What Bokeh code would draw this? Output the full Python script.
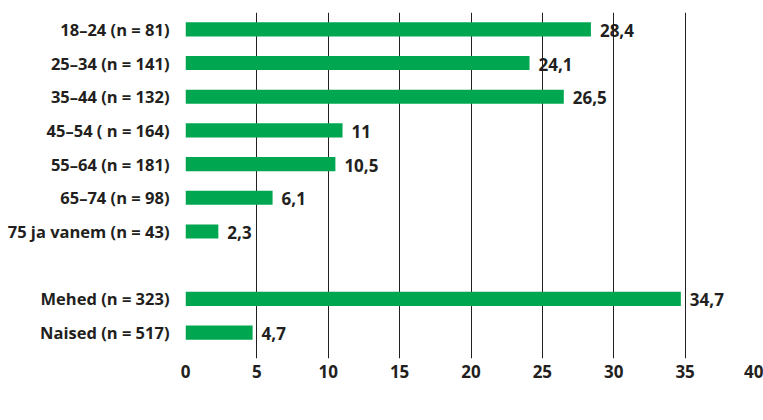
from bokeh.plotting import figure
from bokeh.models import ColumnDataSource, Range1d, Label, FixedTicker
from bokeh.embed import file_html
from bokeh.resources import INLINE
from bokeh.core.properties import value

categories = ["18–24 (n = 81)", "25–34 (n = 141)", "35–44 (n = 132)", "45–54 ( n = 164)",
              "55–64 (n = 181)", "65–74 (n = 98)", "75 ja vanem (n = 43)", "",
              "Mehed (n = 323)", "Naised (n = 517)"]
values = [28.4, 24.1, 26.5, 11, 10.5, 6.1, 2.3, None, 34.7, 4.7]
value_labels = ["28,4", "24,1", "26,5", "11", "10,5", "6,1", "2,3", "", "34,7", "4,7"]
x_ticks = [0, 5, 10, 15, 20, 25, 30, 35, 40]
x_title = "Osakaal, %"

GREEN = "#00a650"
DARK = "#231f20"
FONT = "Open Sans"

n = len(categories)
rows = [(n - 1 - i, c, v, l) for i, (c, v, l) in enumerate(zip(categories, values, value_labels)) if v is not None]
src = ColumnDataSource(dict(y=[r[0] for r in rows], val=[r[2] for r in rows], lab=[r[3] for r in rows]))

p = figure(width=763, height=420, output_backend="svg", toolbar_location=None,
           y_range=Range1d(-0.77, n - 0.5), x_range=(0, 40),
           min_border_left=185, min_border_right=7, min_border_top=12, min_border_bottom=62)
p.outline_line_color = None
p.background_fill_color = "white"

p.hbar(y="y", right="val", left=0, height=0.42, source=src, color=GREEN, line_color=None)
p.text(x="val", y="y", text="lab", source=src, x_offset=9, y_offset=1, text_baseline="middle",
       text_align="left", text_font=value(FONT), text_font_style="bold",
       text_font_size="17px", text_color=DARK)

p.xaxis.ticker = FixedTicker(ticks=x_ticks)
p.xaxis.axis_line_color = None
p.xaxis.major_tick_line_color = None
p.xaxis.minor_tick_line_color = None
p.xaxis.major_label_text_font = FONT
p.xaxis.major_label_text_font_style = "bold"
p.xaxis.major_label_text_font_size = "17px"
p.xaxis.major_label_text_color = DARK
p.xaxis.major_label_standoff = 0

p.yaxis.ticker = FixedTicker(ticks=list(range(n)))
p.yaxis.major_label_overrides = {n - 1 - i: c for i, c in enumerate(categories)}
p.yaxis.axis_line_color = None
p.yaxis.major_tick_line_color = None
p.yaxis.minor_tick_line_color = None
p.yaxis.major_label_text_font = FONT
p.yaxis.major_label_text_font_style = "bold"
p.yaxis.major_label_text_font_size = "16.5px"
p.yaxis.major_label_text_color = DARK
p.yaxis.major_label_standoff = 10

p.xgrid.grid_line_color = DARK
p.xgrid.grid_line_width = 1
p.ygrid.grid_line_color = None

lbl = Label(x=18.5, y=-48, x_units="data", y_units="screen", text=x_title,
            text_font=FONT, text_font_style="bold", text_font_size="16px",
            text_color=DARK, text_align="center", text_baseline="middle")
p.add_layout(lbl)

open("out.html", "w").write(file_html(p, INLINE))
